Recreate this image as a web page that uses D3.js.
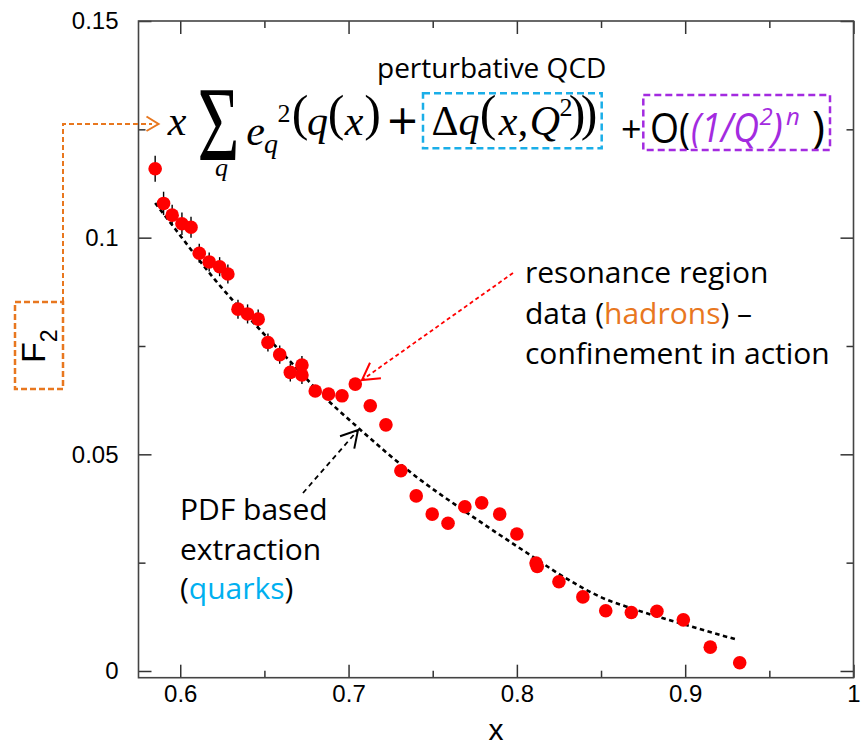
<!DOCTYPE html>
<html>
<head>
<meta charset="utf-8">
<script src="https://cdn.jsdelivr.net/npm/d3@7"></script>
<style>
  body { margin: 0; background: #fff; }
  svg { display: block; }
</style>
</head>
<body>
<div id="chart"></div>
<script>
// F2 data in the resonance region
const xVals = [0.5851, 0.5901, 0.5952, 0.6010, 0.6064, 0.6113, 0.6172, 0.6234, 0.6283, 0.6343,
               0.6400, 0.6463, 0.6521, 0.6591, 0.6654, 0.6723, 0.6723, 0.6802, 0.6881, 0.6961,
               0.7040, 0.7129, 0.7222, 0.7311, 0.7402, 0.7497, 0.7591, 0.7691, 0.7791, 0.7898,
               0.8000, 0.8114, 0.8121, 0.8250, 0.8392, 0.8528, 0.8680, 0.8832, 0.8989, 0.9149,
               0.9324];
const yVals = [0.1159, 0.1079, 0.1052, 0.1032, 0.1024, 0.0964, 0.0944, 0.0933, 0.0916, 0.0835,
               0.0824, 0.0812, 0.0758, 0.0730, 0.0689, 0.0706, 0.0683, 0.0646, 0.0639, 0.0635,
               0.0662, 0.0612, 0.0568, 0.0462, 0.0404, 0.0362, 0.0341, 0.0379, 0.0388, 0.0362,
               0.0316, 0.0249, 0.0241, 0.0206, 0.0171, 0.0139, 0.0135, 0.0138, 0.0118, 0.0055,
               0.0019];
const yErr  = [0.0030, 0.0027, 0.0024, 0.0026, 0.0024, 0.0022, 0.0022, 0.0022, 0.0022, 0.0022,
               0.0022, 0.0022, 0.0021, 0.0021, 0.0021, 0.0021, 0.0021, 0.0012, 0.0012, 0.0012,
               0.0012, 0.0012, 0.0012, 0.0012, 0.0012, 0.0012, 0.0012, 0.0012, 0.0012, 0.0012,
               0.0012, 0.0012, 0.0012, 0.0012, 0.0012, 0.0012, 0.0012, 0.0012, 0.0012, 0.0012,
               0.0012];

// PDF based extraction (dashed curve)
const fitX = [0.5851, 0.5970, 0.6089, 0.6208, 0.6327, 0.6446, 0.6565, 0.6684, 0.6802, 0.7052,
              0.7396, 0.7693, 0.8097, 0.8258, 0.8525, 0.8686, 0.9007, 0.9310];
const fitY = [0.1080, 0.1020, 0.0960, 0.0902, 0.0849, 0.0799, 0.0750, 0.0702, 0.0653, 0.0563,
              0.0450, 0.0368, 0.0263, 0.0222, 0.0166, 0.0144, 0.0106, 0.0072];

const xTicks = [0.6, 0.7, 0.8, 0.9, 1];
const xMinor = [0.65, 0.75, 0.85, 0.95];
const yTicks = [0, 0.05, 0.1, 0.15];
const yMinor = [0.025, 0.075, 0.125];

const W = 868, H = 747;
const BOX = { left: 138.5, right: 853.5, top: 21, bottom: 677.7 };

const svg = d3.select("#chart").append("svg")
    .attr("width", W)
    .attr("height", H);

const X = d3.scaleLinear().domain([0.5752, 1.0]).range([BOX.left, BOX.right]);
const Y = d3.scaleLinear().domain([-0.00155, 0.15]).range([BOX.bottom, BOX.top]);

const AXIS_FONT = "'Liberation Sans', Arial, sans-serif";
const TEXT_FONT = "'Open Sans', 'Noto Sans', sans-serif";
const MATH_FONT = "'Liberation Serif', 'Times New Roman', serif";

// axes, ticks pointing inwards on all four sides
function styleAxis(g) {
    g.select(".domain").remove();
    g.selectAll(".tick line").attr("stroke", "#333").attr("stroke-width", 1.5);
    g.selectAll(".tick text").attr("font-family", AXIS_FONT).attr("font-size", 24).attr("fill", "#000");
}

svg.append("g")
    .attr("transform", "translate(0," + BOX.bottom + ")")
    .call(d3.axisBottom(X).tickValues(xTicks).tickSize(-13).tickPadding(7).tickFormat(d3.format("~g")))
    .call(styleAxis);
svg.append("g")
    .attr("transform", "translate(0," + BOX.bottom + ")")
    .call(d3.axisBottom(X).tickValues(xMinor).tickSize(-7).tickFormat(""))
    .call(styleAxis);
svg.append("g")
    .attr("transform", "translate(0," + BOX.top + ")")
    .call(d3.axisTop(X).tickValues(xTicks).tickSize(-13).tickFormat(""))
    .call(styleAxis);
svg.append("g")
    .attr("transform", "translate(0," + BOX.top + ")")
    .call(d3.axisTop(X).tickValues(xMinor).tickSize(-7).tickFormat(""))
    .call(styleAxis);

svg.append("g")
    .attr("transform", "translate(" + BOX.left + ",0)")
    .call(d3.axisLeft(Y).tickValues(yTicks).tickSize(-13).tickPadding(20).tickFormat(d3.format("~g")))
    .call(styleAxis);
svg.append("g")
    .attr("transform", "translate(" + BOX.left + ",0)")
    .call(d3.axisLeft(Y).tickValues(yMinor).tickSize(-7).tickFormat(""))
    .call(styleAxis);
svg.append("g")
    .attr("transform", "translate(" + BOX.right + ",0)")
    .call(d3.axisRight(Y).tickValues(yTicks).tickSize(-13).tickFormat(""))
    .call(styleAxis);
svg.append("g")
    .attr("transform", "translate(" + BOX.right + ",0)")
    .call(d3.axisRight(Y).tickValues(yMinor).tickSize(-7).tickFormat(""))
    .call(styleAxis);

// frame
svg.append("rect")
    .attr("x", BOX.left).attr("y", BOX.top)
    .attr("width", BOX.right - BOX.left).attr("height", BOX.bottom - BOX.top)
    .attr("fill", "none").attr("stroke", "#444").attr("stroke-width", 1.6);

// x label, centred under the frame
svg.append("text")
    .attr("x", (BOX.left + BOX.right) / 2).attr("y", 740)
    .attr("text-anchor", "middle")
    .attr("font-family", AXIS_FONT).attr("font-size", 30)
    .text("x");

// F2 label in orange dashed box
const ORANGE = "#E8771F";
svg.append("rect")
    .attr("x", 15).attr("y", 302).attr("width", 48).attr("height", 87)
    .attr("fill", "none").attr("stroke", ORANGE).attr("stroke-width", 2.5)
    .attr("stroke-dasharray", "6,3");
const f2 = svg.append("text")
    .attr("transform", "translate(45,363) rotate(-90)")
    .attr("font-family", AXIS_FONT).attr("font-size", 34);
f2.append("tspan").text("F");
f2.append("tspan").attr("font-size", 23).attr("dy", 11.5).text("2");

svg.append("path")
    .attr("d", "M63,302 V124 H152")
    .attr("fill", "none").attr("stroke", ORANGE).attr("stroke-width", 2)
    .attr("stroke-dasharray", "5,3");
svg.append("path")
    .attr("d", "M146.5,116.5 L158.5,124 L146.5,131")
    .attr("fill", "none").attr("stroke", ORANGE).attr("stroke-width", 2);

// fit curve
const line = d3.line()
    .x((d, i) => X(fitX[i]))
    .y((d, i) => Y(fitY[i]))
    .curve(d3.curveMonotoneX);
svg.append("path")
    .attr("d", line(fitX))
    .attr("fill", "none").attr("stroke", "#000").attr("stroke-width", 2.6)
    .attr("stroke-dasharray", "4.5,3.5");

// error bars and points
svg.selectAll(".err")
    .data(xVals)
    .enter()
    .append("line")
    .attr("x1", (d) => X(d)).attr("x2", (d) => X(d))
    .attr("y1", (d, i) => Y(yVals[i] - yErr[i]))
    .attr("y2", (d, i) => Y(yVals[i] + yErr[i]))
    .attr("stroke", "#000").attr("stroke-width", 1.4);

svg.selectAll(".pt")
    .data(xVals)
    .enter()
    .append("circle")
    .attr("cx", (d) => X(d))
    .attr("cy", (d, i) => Y(yVals[i]))
    .attr("r", 6.8)
    .attr("fill", "#ff0000");

// annotation arrows
function arrow(x0, y0, x1, y1, color, dash) {
    svg.append("line")
        .attr("x1", x0).attr("y1", y0).attr("x2", x1).attr("y2", y1)
        .attr("stroke", color).attr("stroke-width", 1.8).attr("stroke-dasharray", dash);
    const a = Math.atan2(y0 - y1, x0 - x1), len = 19, spread = 0.52;
    svg.append("path")
        .attr("d", "M" + (x1 + len * Math.cos(a - spread)) + "," + (y1 + len * Math.sin(a - spread)) +
              " L" + x1 + "," + y1 +
              " L" + (x1 + len * Math.cos(a + spread)) + "," + (y1 + len * Math.sin(a + spread)))
        .attr("fill", "none").attr("stroke", color).attr("stroke-width", 2);
}
arrow(513, 273, 362, 380, "#ff0000", "4,3");
arrow(303, 493, 358, 430, "#000", "5,4");

// annotation texts
function label(lines, x, y0, step, size) {
    lines.forEach((parts, i) => {
        const t = svg.append("text")
            .attr("x", x).attr("y", y0 + i * step)
            .attr("font-family", TEXT_FONT).attr("font-size", size);
        parts.forEach((p) => t.append("tspan").attr("fill", p[1] || "#000").text(p[0]));
    });
}
label([[["resonance region"]],
       [["data ("], ["hadrons", ORANGE], [") \u2013"]],
       [["confinement in action"]]], 525, 283, 40.5, 30);
label([[["PDF based"]],
       [["extraction"]],
       [["("], ["quarks", "#00B0F0"], [")"]]], 180, 520, 39.5, 30);
label([[["perturbative QCD"]]], 377, 78, 0, 28);

// formula: one text element per term, glyphs placed one by one
function term(anchor) {
    return svg.append("text").attr("text-anchor", anchor || "middle");
}
function glyph(t, txt, cx, by, size, opts) {
    opts = opts || {};
    const s = t.append("tspan")
        .attr("x", cx).attr("y", by)
        .attr("font-family", opts.family || MATH_FONT)
        .attr("font-style", opts.italic ? "italic" : "normal")
        .attr("font-size", size)
        .attr("fill", opts.color || "#000")
        .text(txt);
    if (opts.fit) s.attr("textLength", opts.fit).attr("lengthAdjust", "spacingAndGlyphs");
}
const it = { italic: true };
const t1 = term();
glyph(t1, "x", 177, 135, 42, it);
svg.append("text")
    .attr("transform", "translate(218.5,160) scale(0.68,1)")
    .attr("text-anchor", "middle")
    .attr("font-family", MATH_FONT).attr("font-size", 106)
    .text("\u03A3");
const t0 = term();
glyph(t0, "q", 221.5, 176, 26, it);
glyph(t1, "e", 255.5, 145, 42, it);
glyph(t1, "q", 271, 153, 28, it);
glyph(t1, "2", 284, 122, 26);
glyph(t1, "(", 300, 130, 50);
glyph(t1, "q", 317.5, 135, 42, it);
glyph(t1, "(", 336, 130, 50);
glyph(t1, "x", 354, 135, 42, it);
glyph(t1, ")", 372.5, 130, 50);
glyph(t1, "+", 402.5, 134, 40, { family: "'DejaVu Sans', sans-serif" });

// perturbative term
svg.append("rect")
    .attr("x", 423).attr("y", 93.3).attr("width", 178.7).attr("height", 55)
    .attr("fill", "none").attr("stroke", "#1AAEE8").attr("stroke-width", 2.5)
    .attr("stroke-dasharray", "7,4");
const t2 = term();
glyph(t2, "\u0394", 445, 135, 42);
glyph(t2, "q", 469, 135, 42, it);
glyph(t2, "(", 488, 130, 50);
glyph(t2, "x", 508, 135, 42, it);
glyph(t2, ",", 523, 135, 42);
glyph(t2, "Q", 545, 135, 42, it);
glyph(t2, "2", 566, 116, 26);
glyph(t2, ")", 577, 130, 50);
glyph(t2, ")", 589, 130, 50);

// higher twist term, written in runs
const PURPLE = "#A32BE0";
const t3 = term("start");
glyph(t3, "+", 621, 142, 36, { family: TEXT_FONT });
svg.append("rect")
    .attr("x", 643.3).attr("y", 95).attr("width", 186.7).attr("height", 55)
    .attr("fill", "none").attr("stroke", PURPLE).attr("stroke-width", 2.5)
    .attr("stroke-dasharray", "7,4");
glyph(t3, "O(", 650, 143, 42, { family: TEXT_FONT, fit: 40 });
const pit = { family: TEXT_FONT, italic: true, color: PURPLE };
glyph(t3, "(1/Q", 691, 141.7, 40, Object.assign({ fit: 68 }, pit));
glyph(t3, "2", 759.5, 125, 24, pit);
glyph(t3, ")", 771.5, 141.7, 40, pit);
glyph(t3, "n", 786, 125, 24, pit);
glyph(t3, ")", 812, 142, 44, { family: TEXT_FONT });
</script>
</body>
</html>
